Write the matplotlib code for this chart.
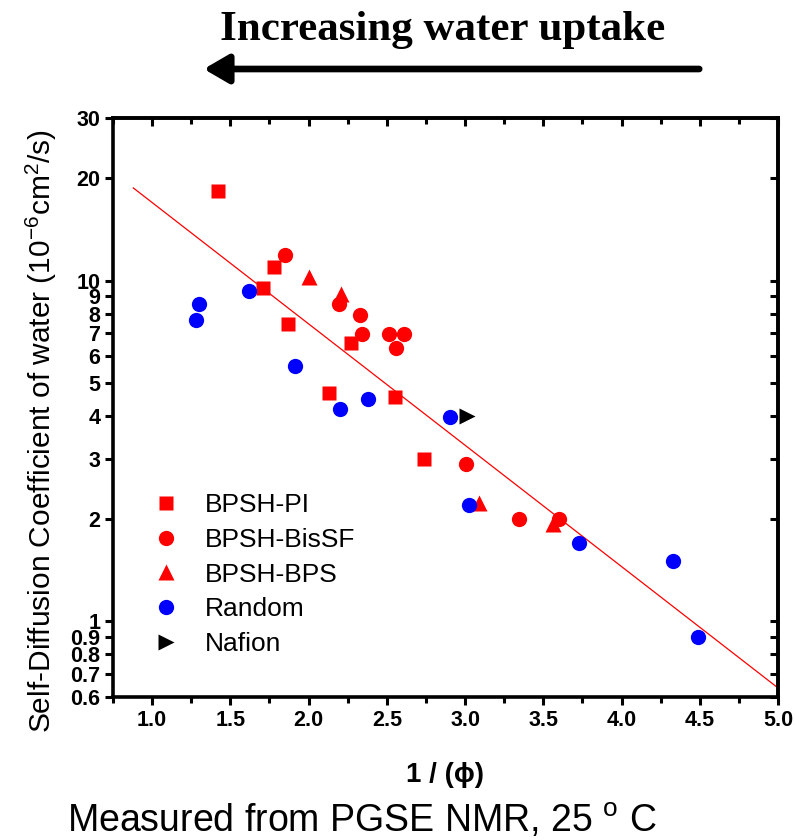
import matplotlib
matplotlib.use("Agg")
import matplotlib.pyplot as plt
from matplotlib.ticker import FixedLocator, FixedFormatter, NullFormatter, NullLocator

plt.rcParams['font.family'] = ['Liberation Sans', 'DejaVu Sans']
plt.rcParams['mathtext.default'] = 'regular'

# ---- data ----
pi_x = [1.420, 1.777, 1.707, 1.867, 2.269, 2.128, 2.550, 2.735]
pi_y = [18.3, 10.96, 9.51, 7.46, 6.56, 4.68, 4.55, 3.00]

bissf_x = [1.850, 2.195, 2.326, 2.339, 2.511, 2.608, 2.556, 3.009, 3.345, 3.599]
bissf_y = [11.89, 8.51, 7.95, 6.96, 6.96, 6.96, 6.36, 2.89, 2.00, 2.00]

bps_x = [2.001, 2.205, 3.092, 3.560]
bps_y = [10.27, 9.15, 2.22, 1.93]

rand_x = [1.299, 1.282, 1.622, 1.916, 2.203, 2.377, 2.904, 3.024, 3.730, 4.326, 4.490]
rand_y = [8.54, 7.65, 9.32, 5.63, 4.20, 4.48, 3.99, 2.20, 1.70, 1.50, 0.902]

nafion_x = [3.011]
nafion_y = [4.0]

fit_x = [0.88, 5.0]
fit_y = [18.7, 0.638]

x_major = [1.0, 1.5, 2.0, 2.5, 3.0, 3.5, 4.0, 4.5, 5.0]
x_minor = [0.75, 1.25, 1.75, 2.25, 2.75, 3.25, 3.75, 4.25, 4.75]
x_labels = ['1.0', '1.5', '2.0', '2.5', '3.0', '3.5', '4.0', '4.5', '5.0']
y_ticks = [0.6, 0.7, 0.8, 0.9, 1, 2, 3, 4, 5, 6, 7, 8, 9, 10, 20, 30]
y_labels = ['0.6', '0.7', '0.8', '0.9', '1', '2', '3', '4', '5', '6', '7', '8', '9', '10', '20', '30']

# ---- figure ----
W, H = 795, 840
fig = plt.figure(figsize=(W / 100, H / 100), dpi=100)
L, R, T, B = 113, 778, 118, 697
ax = fig.add_axes([L / W, 1 - B / H, (R - L) / W, (B - T) / H])

ax.plot(fit_x, fit_y, color='red', lw=0.9, zorder=2)
ax.plot(pi_x, pi_y, 's', color='red', ms=10, mec='none', label='BPSH-PI', zorder=3)
ax.plot(bissf_x, bissf_y, 'o', color='red', ms=11, mec='none', label='BPSH-BisSF', zorder=3)
ax.plot(bps_x, bps_y, '^', color='red', ms=12, mec='none', label='BPSH-BPS', zorder=3)
ax.plot(rand_x, rand_y, 'o', color='blue', ms=11, mec='none', label='Random', zorder=3)
ax.plot(nafion_x, nafion_y, '>', color='black', ms=11, mec='none', label='Nafion', zorder=3)

ax.set_yscale('log')
ax.set_xlim(0.75, 5.0)
ax.set_ylim(0.6, 30)

ax.xaxis.set_major_locator(FixedLocator(x_major))
ax.xaxis.set_major_formatter(FixedFormatter(x_labels))
ax.xaxis.set_minor_locator(FixedLocator(x_minor))
ax.yaxis.set_major_locator(FixedLocator(y_ticks))
ax.yaxis.set_major_formatter(FixedFormatter(y_labels))
ax.yaxis.set_minor_locator(NullLocator())
ax.yaxis.set_minor_formatter(NullFormatter())

for s in ax.spines.values():
    s.set_linewidth(2.6)

ax.tick_params(axis='both', which='major', direction='out', length=6, width=2.2, pad=3)
ax.tick_params(axis='x', which='minor', direction='out', length=4, width=2.2)
for lab in ax.get_xticklabels():
    lab.set_fontweight('bold')
    lab.set_fontsize(15.5)
for lab in ax.get_yticklabels():
    lab.set_fontweight('bold')
    lab.set_fontsize(15.5)

# mirrored axes with inward ticks
top = ax.secondary_xaxis('top')
top.xaxis.set_major_locator(FixedLocator(x_major))
top.xaxis.set_minor_locator(FixedLocator(x_minor))
top.xaxis.set_major_formatter(NullFormatter())
top.tick_params(which='major', direction='in', length=6, width=2.2)
top.tick_params(which='minor', direction='in', length=4, width=2.2)
top.spines['top'].set_linewidth(2.6)

right = ax.secondary_yaxis('right')
right.yaxis.set_major_locator(FixedLocator(y_ticks))
right.yaxis.set_minor_locator(NullLocator())
right.yaxis.set_major_formatter(NullFormatter())
right.yaxis.set_minor_formatter(NullFormatter())
right.tick_params(which='major', direction='in', length=6, width=2.2)
right.spines['right'].set_linewidth(2.6)

# labels
fig.text(41 / W, 1 - 431 / H, 'Self-Diffusion Coefficient of water (10$^{-6}$cm$^{2}$/s)',
         rotation=90, ha='center', va='center', fontsize=21.5)
fig.text(445 / W, 1 - 775 / H, '1 / (ϕ)', ha='center', va='center', fontsize=20,
         fontweight='bold')
fig.text(362 / W, 1 - 832 / H, 'Measured from PGSE NMR, 25 $^{o}$ C', ha='center',
         va='baseline', fontsize=27)
fig.text(443 / W, 1 - 40 / H, 'Increasing water uptake', ha='center', va='baseline',
         fontsize=31, fontweight='bold', family=['Liberation Serif', 'DejaVu Serif'])

fig.patches.append(matplotlib.patches.FancyArrowPatch(
    (702 / W, 1 - 69 / H), (201 / W, 1 - 69 / H), transform=fig.transFigure,
    arrowstyle='-|>,head_length=0.6,head_width=0.35', mutation_scale=25,
    lw=4.8, color='black'))

leg = ax.legend(loc='upper left', bbox_to_anchor=(153 / W, 1 - 493 / H),
                bbox_transform=fig.transFigure, frameon=False, fontsize=19,
                handlelength=1.0, handletextpad=0.97, labelspacing=0.41,
                borderpad=0, borderaxespad=0)

fig.savefig('out.png', dpi=100)
